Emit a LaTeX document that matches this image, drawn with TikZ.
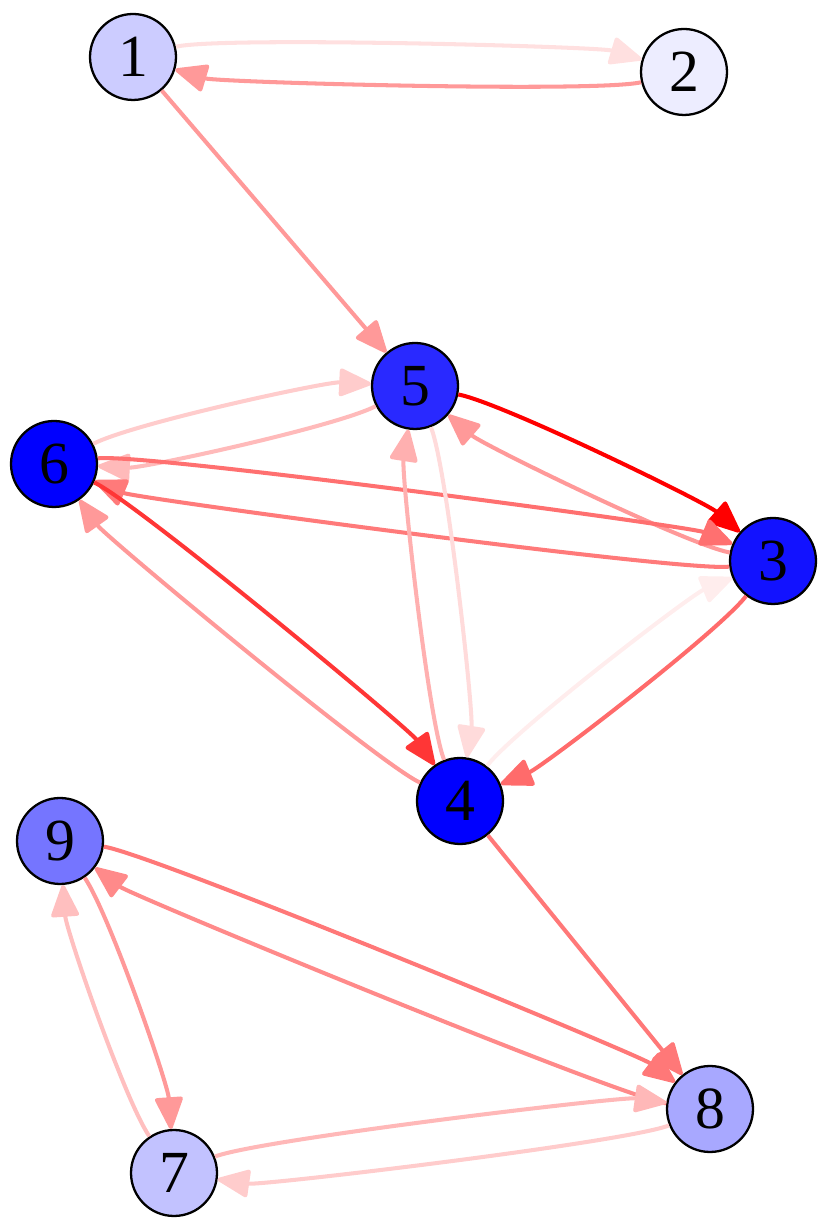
\documentclass[tikz,border=0pt]{standalone}
\usepackage{fontspec}
\setmainfont{Liberation Serif}
\usetikzlibrary{arrows.meta}

\begin{document}
\begin{tikzpicture}[x=0.02cm,y=0.02cm,
  vtx/.style={circle,draw=black,line width=1.3pt,minimum size=1.72cm,
              inner sep=0pt,fill=blue!#1,font=\fontsize{34}{34}\selectfont},
  edge/.style={draw=#1,line width=2.3pt,
               -{Triangle[round,length=0.7cm,width=0.58cm]}},
  bent/.style={bend left=15,distance=0.9cm}
]
\useasboundingbox (0,0) rectangle (830,1229);
% Vertices
\foreach \n/\x/\y/\f in {1/133/1172/20, 2/684/1157/7, 5/415/843/84,
                         6/54/765/100, 3/773/668/93, 4/460/428/100,
                         9/60/388/54, 8/710/120/34, 7/174/56/24}
  \node[vtx=\f] (v\n) at (\x,\y) {\n};
% Mutual edges
\foreach \a/\b/\k in {1/2/12, 2/1/40, 5/3/100, 3/5/40, 6/5/20, 5/6/27,
                      6/3/56, 3/6/52, 6/4/79, 4/6/40, 4/5/31, 5/4/14,
                      4/3/7, 3/4/58, 9/8/53, 8/9/46, 9/7/40, 7/9/25,
                      7/8/28, 8/7/20}
  \draw[edge=red!\k] (v\a) to[bent] (v\b);
% Single edges
\foreach \a/\b/\k in {1/5/40, 4/8/53}
  \draw[edge=red!\k] (v\a) -- (v\b);
\end{tikzpicture}
\end{document}
